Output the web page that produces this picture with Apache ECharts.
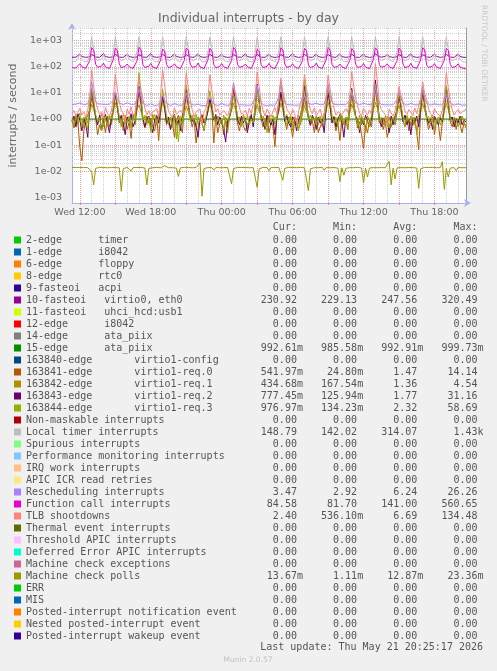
<!DOCTYPE html>
<html><head><meta charset="utf-8">
<script src="https://cdn.jsdelivr.net/npm/echarts@6/dist/echarts.min.js"></script>
<style>html,body{margin:0;padding:0;background:#f0f0f0}#c{width:497px;height:671px}</style>
</head><body><div id="c"></div>
<script>
// ---------- legend / series definitions ----------
const seriesNames = [
"2-edge      timer","1-edge      i8042","6-edge      floppy","8-edge      rtc0",
"9-fasteoi   acpi","10-fasteoi   virtio0, eth0","11-fasteoi   uhci_hcd:usb1",
"12-edge      i8042","14-edge      ata_piix","15-edge      ata_piix",
"163840-edge       virtio1-config","163841-edge       virtio1-req.0",
"163842-edge       virtio1-req.1","163843-edge       virtio1-req.2",
"163844-edge       virtio1-req.3","Non-maskable interrupts","Local timer interrupts",
"Spurious interrupts","Performance monitoring interrupts","IRQ work interrupts",
"APIC ICR read retries","Rescheduling interrupts","Function call interrupts",
"TLB shootdowns","Thermal event interrupts","Threshold APIC interrupts",
"Deferred Error APIC interrupts","Machine check exceptions","Machine check polls",
"ERR","MIS","Posted-interrupt notification event","Nested posted-interrupt event",
"Posted-interrupt wakeup event"];
const seriesColors = [
"#00CC00","#0066B3","#FF8000","#FFCC00","#330099","#990099","#CCFF00","#FF0000",
"#808080","#008F00","#00487D","#B35A00","#B38F00","#6B006B","#8FB300","#B30000",
"#BEBEBE","#80FF80","#80C9FF","#FFC080","#FFE680","#AA80FF","#EE00CC","#FF8080",
"#666600","#FFBFFF","#00FFCC","#CC6699","#999900","#00CC00","#0066B3","#FF8000",
"#FFCC00","#330099"];
const curValues = ["0.00","0.00","0.00","0.00","0.00","230.92","0.00","0.00","0.00","992.61m","0.00","541.97m","434.68m","777.45m","976.97m","0.00","148.79","0.00","0.00","0.00","0.00","3.47","84.58","2.40","0.00","0.00","0.00","0.00","13.67m","0.00","0.00","0.00","0.00","0.00"];
const minValues = ["0.00","0.00","0.00","0.00","0.00","229.13","0.00","0.00","0.00","985.58m","0.00","24.80m","167.54m","125.94m","134.23m","0.00","142.02","0.00","0.00","0.00","0.00","2.92","81.70","536.10m","0.00","0.00","0.00","0.00","1.11m","0.00","0.00","0.00","0.00","0.00"];
const avgValues = ["0.00","0.00","0.00","0.00","0.00","247.56","0.00","0.00","0.00","992.91m","0.00","1.47","1.36","1.77","2.32","0.00","314.07","0.00","0.00","0.00","0.00","6.24","141.00","6.69","0.00","0.00","0.00","0.00","12.87m","0.00","0.00","0.00","0.00","0.00"];
const maxValues = ["0.00","0.00","0.00","0.00","0.00","320.49","0.00","0.00","0.00","999.73m","0.00","14.14","4.54","31.16","58.69","0.00","1.43k","0.00","0.00","0.00","0.00","26.26","560.65","134.48","0.00","0.00","0.00","0.00","23.36m","0.00","0.00","0.00","0.00","0.00"];

// ---------- x categories: Wed 11:20 .. Thu 20:40, 10-minute steps ----------
const startMinute = 680, stepMinutes = 10, pointCount = 201;
const timeCategories = [];
for (let i = 0; i < pointCount; i++) {
  const m = startMinute + i * stepMinutes;
  const day = m >= 1440 ? "Thu" : "Wed";
  const mm = m % 1440;
  timeCategories.push(day + " " + String(Math.floor(mm / 60)).padStart(2, "0") + ":" + String(mm % 60).padStart(2, "0"));
}
const xLabelTimes = ["Wed 12:00","Wed 18:00","Thu 00:00","Thu 06:00","Thu 12:00","Thu 18:00"];

// ---------- y axis ----------
const yMin = 6.05e-4, yMax = 3070;
const yDecades = [1e-3, 1e-2, 1e-1, 1, 10, 100, 1000];

// ---------- series values ----------
const eth0 = [
232,231,233,252,312,246,233,231,232,241,296,262,
238,233,231,250,318,245,232,230,233,243,300,258,
236,232,230,249,305,247,231,230,232,238,290,261,
237,233,231,251,320,244,232,231,233,241,298,255,
235,232,230,253,309,248,231,229,232,240,293,259,
239,233,231,248,316,246,232,230,233,242,301,257,
236,231,230,250,307,245,231,230,232,239,292,263,
238,233,232,252,314,247,232,231,233,243,297,256,
235,232,230,249,310,244,231,229,232,240,295,260,
237,233,231,251,319,248,233,230,232,241,299,258,
236,232,230,250,306,246,231,230,233,239,294,262,
238,233,231,253,315,245,232,231,232,242,302,257,
235,231,230,249,311,247,231,229,232,240,320,265,
237,233,232,251,308,244,233,230,233,241,296,259,
236,232,230,250,317,246,231,230,232,239,291,261,
238,233,231,252,310,248,232,231,233,243,298,256,
236,232,230,251,313,245,232,231,230.9];
const ata15 = [
.993,.992,.994,.993,.991,.993,.995,.992,.993,.994,.997,.995,
.993,.992,.993,.994,.992,.993,.991,.993,.994,.992,.998,.995,
.993,.994,.992,.993,.991,.993,.994,.992,.993,.993,.999,.996,
.994,.992,.993,.991,.993,.994,.992,.993,.992,.994,.997,.995,
.993,.992,.994,.993,.992,.986,.993,.994,.992,.993,.998,.995,
.992,.993,.994,.992,.993,.991,.994,.993,.992,.993,.997,.994,
.993,.994,.992,.993,.992,.994,.993,.991,.993,.994,.998,.996,
.993,.992,.993,.994,.992,.993,.994,.992,.993,.992,.997,.995,
.994,.993,.992,.993,.991,.994,.993,.992,.994,.993,.999,.996,
.993,.992,.994,.993,.992,.993,.991,.994,.993,.992,.997,.994,
.993,.994,.992,.993,.994,.992,.993,.994,.992,.993,.998,.995,
.992,.993,.994,.992,.993,.991,.994,.993,.992,.994,.997,.995,
.993,.992,.994,.993,.992,.994,.993,.992,.993,.994,.9997,.996,
.993,.994,.992,.993,.991,.993,.994,.992,.993,.992,.997,.994,
.994,.993,.992,.994,.993,.992,.993,.991,.994,.993,.998,.995,
.993,.992,.994,.993,.992,.993,.994,.992,.993,.994,.997,.995,
.993,.992,.993,.994,.992,.993,.991,.993,.9926];
const req0 = [
0.9,0.45,1.2,0.7,0.08,0.025,0.35,0.9,1.4,2.2,6.5,3.1,
1.1,0.25,0.6,0.35,0.9,0.3,1.3,0.5,0.8,1.9,9.5,2.8,
0.7,1.2,0.5,1.0,0.4,0.75,0.18,1.5,0.6,2.4,12,3.5,
0.9,0.45,1.3,0.7,1.1,0.5,0.35,1.2,0.15,1.8,7.2,2.6,
0.6,1.0,0.4,0.8,0.2,0.9,1.4,0.55,0.3,2.1,8.8,3.0,
1.3,0.5,0.9,0.12,0.45,1.1,0.7,0.35,1.0,2.0,5.5,2.4,
0.12,1.2,0.3,0.65,1.0,0.25,0.9,0.5,1.3,2.3,10,3.2,
0.7,0.35,1.1,0.55,0.35,0.4,0.95,1.2,0.6,1.7,14,3.8,
1.0,0.5,0.8,1.3,0.3,0.7,0.5,0.087,1.1,2.2,9.0,2.9,
0.9,0.4,1.2,0.6,0.2,0.85,1.0,0.45,0.7,1.9,6.8,2.5,
1.1,0.55,0.9,0.3,1.2,0.3,0.5,0.8,1.3,2.4,11,3.3,
0.8,1.0,0.35,0.7,0.15,0.9,0.6,1.2,0.4,2.0,8.2,2.7,
1.2,0.45,0.8,0.25,0.075,0.6,0.3,0.9,0.5,2.6,13,3.6,
0.7,1.1,0.4,0.85,0.2,0.4,0.5,1.0,0.6,1.8,7.5,2.6,
0.9,0.5,1.2,0.35,0.8,0.55,1.1,0.3,0.067,2.1,9.2,3.0,
1.0,0.4,0.7,1.2,0.25,0.9,0.6,0.15,0.8,2.3,10,3.1,
0.8,0.5,1.1,0.4,0.9,0.6,0.3,0.7,0.54];
const req1 = [
1.1,0.8,1.5,0.6,1.2,0.9,0.45,1.3,0.7,1.8,3.8,2.2,
1.4,0.7,1.0,1.6,0.5,1.1,0.8,1.3,0.6,2.0,4.2,2.5,
1.2,0.9,0.35,1.4,0.8,1.2,0.6,1.0,1.5,1.7,3.5,2.0,
0.9,1.3,0.7,1.1,0.4,1.5,0.9,0.6,1.2,1.9,4.5,2.4,
1.3,0.6,1.2,0.8,1.4,0.17,1.0,1.3,0.7,1.6,3.2,1.9,
1.0,1.4,0.8,0.5,1.2,0.9,1.5,0.7,1.1,1.8,3.9,2.1,
1.2,0.7,1.3,1.0,0.6,1.4,0.8,0.3,1.2,2.1,4.0,2.3,
0.8,1.2,0.6,1.5,0.9,0.4,1.3,1.0,0.7,1.7,3.6,2.0,
1.3,0.9,1.1,0.5,1.4,0.8,0.6,1.2,1.0,1.9,4.1,2.4,
1.0,1.5,0.7,1.2,0.35,1.1,0.9,1.4,0.6,1.6,3.3,1.8,
1.4,0.8,1.2,0.9,1.3,0.6,1.1,0.5,1.2,2.0,4.3,2.5,
0.9,1.3,0.5,1.1,0.8,1.4,0.7,1.2,0.4,1.8,3.7,2.1,
1.2,0.7,1.4,0.6,1.0,0.3,1.3,0.9,1.1,2.2,4.4,2.6,
1.1,0.9,0.6,1.3,0.8,1.2,0.5,1.0,1.4,1.7,3.4,1.9,
0.8,1.4,1.0,0.7,1.3,0.9,1.2,0.25,1.0,1.9,3.9,2.2,
1.3,0.6,1.1,1.4,0.7,1.0,0.8,1.3,0.6,2.0,4.0,2.3,
1.0,1.2,0.7,1.1,0.9,0.6,1.3,0.8,0.43];
const req2 = [
0.8,1.3,0.5,1.6,0.9,0.35,1.1,0.6,0.2,2.8,12,4.0,
1.2,0.6,1.4,0.4,1.0,1.5,0.7,0.3,1.1,2.5,9.0,3.2,
0.9,1.4,0.7,0.25,1.2,0.8,1.6,0.5,0.9,3.2,18,5.1,
1.1,0.5,0.9,1.3,0.6,0.3,1.0,1.4,0.7,2.4,7.5,2.9,
0.7,1.2,0.4,1.0,1.5,0.6,0.9,0.35,1.3,2.9,14,4.2,
1.3,0.8,1.1,0.5,0.2,1.0,1.4,0.7,0.9,2.2,6.0,2.7,
0.9,1.5,0.6,1.2,0.8,0.4,0.13,0.9,1.2,3.0,16,4.6,
1.0,0.6,1.3,0.7,1.1,0.3,0.8,1.5,0.5,3.5,22,5.5,
1.2,0.8,0.4,1.4,0.9,0.6,1.0,0.25,1.1,2.7,11,3.8,
0.8,1.3,0.7,0.5,1.2,1.0,0.35,0.9,1.4,3.3,19,5.0,
1.1,0.6,1.4,0.9,0.4,1.2,0.7,1.0,0.3,2.6,10,3.5,
0.7,1.2,0.5,1.0,1.5,0.8,0.2,1.1,0.9,3.1,15,4.4,
1.3,0.9,0.3,1.2,0.6,1.4,0.8,0.5,1.0,4.2,31,7.0,
1.0,0.5,1.1,0.7,0.9,0.3,1.3,0.6,1.2,2.5,8.5,3.1,
0.8,1.4,0.6,1.0,0.25,1.1,0.7,1.3,0.5,2.9,13,4.0,
1.2,0.7,1.0,0.4,1.3,0.9,0.6,1.1,0.8,3.0,17,4.8,
0.9,1.2,0.5,1.0,0.7,1.3,0.6,0.9,0.78];
const req3 = [
1.0,0.6,1.4,0.8,1.7,0.5,1.2,0.9,0.4,3.5,15,5.2,
1.5,0.8,1.1,0.35,1.3,0.9,0.6,1.4,1.0,3.0,11,4.0,
1.2,0.5,1.6,1.0,0.7,1.3,0.45,1.1,0.8,6.5,58.7,12,
0.9,1.4,0.6,1.2,0.3,1.0,1.5,0.7,1.2,3.2,14,4.6,
1.3,0.7,1.1,0.5,1.4,0.9,0.134,1.0,0.6,4.0,20,6.0,
0.8,1.2,0.9,1.5,0.6,1.1,0.7,0.4,1.3,3.1,12,4.3,
1.1,0.6,1.3,0.8,1.0,0.4,1.2,0.9,1.4,2.8,9.0,3.8,
1.4,0.9,0.5,1.2,0.8,1.3,0.6,1.0,0.7,3.4,16,5.0,
1.0,1.3,0.7,0.3,1.1,0.8,1.4,0.6,1.2,4.5,28,7.5,
1.2,0.6,1.0,1.4,0.5,1.2,0.9,0.35,1.1,5.0,32,8.0,
0.9,1.4,0.8,1.1,0.6,1.0,1.3,0.7,1.0,3.6,18,5.5,
1.3,0.7,1.2,0.5,1.4,0.9,0.6,1.2,0.8,3.3,13,4.5,
1.1,0.9,0.4,1.3,0.7,1.1,1.0,0.5,1.4,3.8,21,6.2,
0.8,1.2,1.0,0.6,1.3,0.45,0.9,1.2,0.7,2.9,10,3.9,
1.2,0.5,1.4,0.9,0.7,1.2,0.6,1.0,1.3,3.5,17,5.1,
1.0,1.3,0.7,1.1,0.4,0.9,1.2,0.6,1.0,3.7,19,5.6,
1.1,0.7,1.2,0.9,0.5,1.0,1.3,0.8,0.98];
const localTimer = [
160,157,163,205,310,196,161,156,159,365,1410,490,
215,172,160,198,305,190,158,155,161,390,1380,470,
220,168,157,201,322,188,160,154,158,372,1420,505,
208,170,159,195,298,192,157,153,160,355,1360,460,
212,166,156,203,315,187,159,155,157,380,1400,520,
218,171,158,196,309,194,156,152,159,368,1390,480,
206,165,157,199,320,189,158,154,160,392,1430,510,
214,169,155,202,302,191,157,153,158,360,1350,470,
210,167,158,197,312,186,159,155,161,378,1410,495,
219,172,156,204,318,193,157,154,159,370,1385,485,
207,166,159,198,300,190,158,152,157,385,1420,500,
213,170,157,201,325,188,156,153,160,362,1370,475,
216,168,158,196,306,192,159,155,158,388,1400,515,
209,171,156,203,314,187,157,154,161,374,1395,490,
217,167,157,199,299,193,158,153,159,366,1415,505,
211,169,158,202,321,189,156,152,158,381,1380,480,
214,166,157,200,308,190,158,151,148.8];
const rescheduling = [
3.6,3.5,3.7,3.6,4.1,3.7,3.5,3.6,3.8,6.5,27,8.2,
4.6,3.8,3.6,3.7,4.0,3.6,3.5,3.7,3.6,5.2,11,6.0,
4.2,3.7,3.5,3.6,4.2,3.7,3.6,3.5,3.7,5.8,15,6.8,
4.0,3.4,3.3,3.4,3.8,3.4,3.3,3.4,3.5,4.8,8.0,5.1,
3.9,3.4,3.3,3.5,3.9,3.3,3.4,3.3,3.4,5.0,10,5.5,
3.8,3.3,3.4,3.3,3.7,3.4,3.3,3.4,3.3,4.6,6.5,4.8,
3.7,3.4,3.3,3.4,3.9,3.3,3.4,3.5,3.4,6.8,25,8.5,
4.5,3.5,3.4,3.5,3.8,3.4,3.3,3.4,3.5,6.2,20,7.6,
4.3,3.5,3.4,3.3,3.9,3.5,3.4,3.3,3.4,7.0,26,8.8,
4.4,3.6,3.4,3.5,3.8,3.4,3.5,3.4,3.3,4.9,8.5,5.3,
3.9,3.5,3.6,3.7,4.0,3.6,3.5,3.6,3.7,6.6,22,8.0,
4.5,3.7,3.6,3.5,3.9,3.6,3.7,3.5,3.6,5.3,10,6.0,
4.1,3.6,3.5,3.6,4.0,3.5,3.6,3.7,3.5,6.1,18,7.2,
4.3,3.6,3.4,3.5,3.8,3.5,3.4,3.5,3.6,5.4,12,6.2,
4.0,3.5,3.4,3.5,3.9,3.4,3.5,3.4,3.5,5.6,14,6.5,
4.1,3.5,3.4,3.5,3.8,3.4,3.5,3.4,3.5,5.0,9.0,5.4,
3.9,3.5,3.4,3.6,3.8,3.5,3.4,3.5,3.47];
const functionCall = [
92,89,91,104,132,101,90,87,88,175,545,430,
125,96,90,106,138,99,89,86,90,190,520,410,
130,94,88,103,128,100,91,87,89,168,560,445,
118,95,90,105,135,98,88,86,88,182,480,390,
122,93,89,107,130,102,90,85,89,176,530,425,
127,96,88,102,140,99,89,86,90,186,505,400,
119,92,90,104,133,101,88,87,88,172,550,440,
124,95,89,106,129,100,90,86,89,188,470,380,
121,94,88,103,136,98,89,85,90,179,540,435,
128,96,90,105,131,101,88,86,88,170,515,415,
117,93,89,107,139,99,90,87,89,184,555,430,
123,95,88,102,127,100,89,86,90,174,495,400,
126,94,90,104,134,98,88,85,88,189,535,425,
120,96,89,106,130,101,90,86,89,171,525,410,
129,93,88,103,137,99,89,87,90,183,545,440,
118,95,90,105,132,100,88,86,88,178,510,420,
124,94,89,104,131,98,88,86,84.6];
const tlbShootdowns = [
1.6,2.1,1.3,1.8,2.6,1.4,1.9,1.2,2.2,7.5,75,18,
5.2,2.4,1.5,1.9,1.1,2.8,1.6,1.3,2.0,6.8,52,14,
4.6,2.2,1.7,0.8,2.4,1.5,2.9,1.4,1.8,8.2,38,12,
5.8,2.6,1.4,2.1,1.3,1.9,1.6,2.5,1.2,9.1,78,20,
4.9,2.0,1.8,1.1,2.7,1.5,1.3,2.2,1.7,7.2,60,16,
5.5,2.3,1.2,1.9,1.6,2.4,0.6,1.8,2.6,6.5,50,13,
4.2,1.9,2.5,1.4,1.2,2.1,1.7,1.3,2.3,5.8,19,8.5,
5.1,2.7,1.5,1.8,2.2,1.3,2.6,1.6,1.4,8.8,63,17,
4.4,2.1,1.3,2.4,1.7,1.2,1.9,2.8,1.5,6.9,36,11,
5.6,2.5,1.8,1.4,2.3,1.6,0.7,2.0,1.9,7.7,52,15,
4.8,2.2,1.6,2.7,1.3,1.8,2.4,1.1,1.7,7.4,48,14,
5.3,2.6,1.4,1.9,2.1,1.5,1.3,2.5,1.8,8.5,65,18,
6.2,3.1,1.7,1.3,2.6,1.9,1.4,2.2,1.6,12,134,28,
4.1,2.3,1.9,1.5,0.55,2.4,1.7,1.3,2.1,5.5,18,7.8,
4.5,2.0,1.5,2.3,1.8,1.3,2.6,1.6,1.4,6.1,27,9.5,
5.7,2.4,1.6,1.2,2.5,1.7,1.9,1.3,2.2,8.0,60,16,
5.0,2.2,1.4,1.9,2.3,1.6,1.8,2.1,2.4];
const machineCheckPolls = [
.0138,.0136,.0140,.0137,.0139,.0135,.0138,.0141,.0137,.0136,.0092,.0030,
.0129,.0138,.0140,.0136,.0139,.0137,.0135,.0140,.0138,.0136,.0139,.0137,
.0134,.0017,.0125,.0138,.0140,.0136,.0102,.0137,.0139,.0138,.0135,.0140,
.0137,.0133,.0030,.0128,.0139,.0136,.0138,.0140,.0137,.0135,.0139,.0162,
.0138,.0136,.0140,.0137,.0139,.0131,.0063,.0134,.0138,.0141,.0136,.0139,
.0137,.0135,.0140,.0138,.0136,.0210,.0011,.0127,.0139,.0137,.0140,.0136,
.0110,.0138,.0139,.0136,.0140,.0137,.0135,.0139,.0132,.0033,.0126,.0138,
.0140,.0136,.0139,.0137,.0138,.0141,.0136,.0139,.0137,.0130,.0024,.0124,
.0138,.0140,.0136,.0139,.0105,.0137,.0140,.0138,.0136,.0139,.0133,.0045,
.0129,.0138,.0140,.0137,.0139,.0160,.0136,.0138,.0140,.0137,.0135,.0132,
.0018,.0123,.0139,.0137,.0140,.0136,.0138,.0141,.0110,.0137,.0139,.0136,
.0140,.0138,.0136,.0131,.0040,.0135,.0070,.0128,.0139,.0137,.0140,.0136,
.0138,.0141,.0137,.0132,.0035,.0130,.0060,.0133,.0139,.0137,.0140,.0136,
.0158,.0138,.0140,.0136,.0139,.0240,.0030,.0131,.0050,.0134,.0139,.0137,
.0140,.0136,.0115,.0138,.0140,.0137,.0139,.0133,.0022,.0125,.0138,.0140,
.0136,.0139,.0137,.0140,.0138,.0136,.0139,.0137,.0234,.0020,.0128,.0060,
.0132,.0139,.0137,.0105,.0138,.0140,.0136,.0139,.01367];

const seriesData = {
  "10-fasteoi   virtio0, eth0": eth0,
  "15-edge      ata_piix": ata15,
  "163841-edge       virtio1-req.0": req0,
  "163842-edge       virtio1-req.1": req1,
  "163843-edge       virtio1-req.2": req2,
  "163844-edge       virtio1-req.3": req3,
  "Local timer interrupts": localTimer,
  "Rescheduling interrupts": rescheduling,
  "Function call interrupts": functionCall,
  "TLB shootdowns": tlbShootdowns,
  "Machine check polls": machineCheckPolls
};

// ---------- helpers ----------
const minorGridValues = [];
for (let e = -4; e <= 3; e++) {
  for (let k = 2; k <= 9; k++) {
    const v = k * Math.pow(10, e);
    if (v > yMin && v < yMax) minorGridValues.push(v);
  }
}
function placeField(row, value, suffixIndex) {
  const f = /[a-z]$/i.test(value) ? value : value + " ";
  return row.padEnd(suffixIndex + 1 - f.length, " ") + f;
}
function legendRow(name) {
  const i = seriesNames.indexOf(name);
  let r = name;
  r = placeField(r, curValues[i], 45);
  r = placeField(r, minValues[i], 55);
  r = placeField(r, avgValues[i], 65);
  r = placeField(r, maxValues[i], 75);
  return r;
}
const headerRow = " ".repeat(41) + "Cur:" + " ".repeat(6) + "Min:" + " ".repeat(6) + "Avg:" + " ".repeat(6) + "Max:";

const MONO = "DejaVu Sans Mono";
const SANS = "DejaVu Sans";
const gridRed = "#f0a0a0";
const gridGrey = "#cfcfcf";
const axisBlue = "#aab2ee";

const series = seriesNames.map((name, i) => ({
  name: name,
  type: "line",
  data: seriesData[name] || [],
  showSymbol: false,
  symbol: "none",
  silent: true,
  z: 3,
  lineStyle: { width: 1, color: seriesColors[i] },
  itemStyle: { color: seriesColors[i] }
}));
series.unshift({
  type: "line", data: [], silent: true, z: 1,
  markLine: {
    silent: true, symbol: ["none", "none"], label: { show: false }, z: 1, animation: false,
    lineStyle: { color: gridGrey, type: "dotted", width: 1 },
    emphasis: { disabled: true },
    data: minorGridValues.map(v => ({ yAxis: v }))
  }
}, {
  type: "line", data: [], silent: true, z: 1,
  markLine: {
    silent: true, symbol: ["none", "none"], label: { show: false }, z: 1, animation: false,
    lineStyle: { color: gridRed, type: "dotted", width: 1 },
    emphasis: { disabled: true },
    data: yDecades.map(v => ({ yAxis: v }))
  }
});

const chart = echarts.init(document.getElementById("c"), null, { renderer: "canvas" });
chart.setOption({
  animation: false,
  backgroundColor: "#f0f0f0",
  title: {
    text: "Individual interrupts - by day", left: "center", top: 12, padding: 0,
    textStyle: { fontFamily: SANS, fontSize: 12.5, fontWeight: "normal", color: "#666" }
  },
  grid: { left: 67, right: 31, top: 28, bottom: 468, show: true, backgroundColor: "#ffffff", borderWidth: 0 },
  xAxis: [{
    type: "category", data: timeCategories, boundaryGap: false, position: "bottom",
    axisLine: { onZero: false, lineStyle: { color: axisBlue, width: 1 }, symbol: ["none", "arrow"], symbolSize: [6, 7], symbolOffset: [0, 5] },
    axisTick: { show: true, length: 2, inside: false, interval: (i) => i % 18 === 4, lineStyle: { color: "#f08080" } },
    axisLabel: { interval: (i, v) => xLabelTimes.indexOf(v) >= 0, fontFamily: SANS, fontSize: 9.5, color: "#666", margin: 5 },
    splitLine: { show: true, interval: (i) => i % 6 === 4, lineStyle: { color: gridGrey, type: "dotted", width: 1 } }
  }, {
    type: "category", data: timeCategories, boundaryGap: false, position: "top",
    axisLine: { show: false }, axisTick: { show: false }, axisLabel: { show: false },
    splitLine: { show: true, interval: (i) => i % 18 === 4, lineStyle: { color: gridRed, type: "dotted", width: 1 } }
  }],
  yAxis: [{
    type: "log", logBase: 10, min: yMin, max: yMax, position: "left",
    name: "interrupts / second", nameLocation: "middle", nameGap: 53,
    nameTextStyle: { fontFamily: SANS, fontSize: 11, color: "#666" },
    axisLine: { show: true, onZero: false, lineStyle: { color: axisBlue, width: 1 }, symbol: ["none", "arrow"], symbolSize: [6, 7], symbolOffset: [0, 5] },
    axisTick: { show: false },
    axisLabel: { showMinLabel: false, showMaxLabel: false, fontFamily: SANS, fontSize: 9.5, color: "#666", margin: 10,
      formatter: (v) => { const e = Math.round(Math.log10(v)); return "1e" + (e < 0 ? "-" : "+") + String(Math.abs(e)).padStart(2, "0"); } },
    splitLine: { show: false }
  }, {
    type: "log", logBase: 10, min: yMin, max: yMax, position: "right",
    axisLine: { show: true, onZero: false, lineStyle: { color: "#999", width: 1 } },
    axisTick: { show: false }, axisLabel: { show: false }, splitLine: { show: false }
  }],
  legend: {
    data: seriesNames, orient: "vertical", left: 14, top: 234, padding: 0,
    itemWidth: 7, itemHeight: 7, itemGap: 0, icon: "rect",
    formatter: legendRow,
    textStyle: { fontFamily: MONO, fontSize: 10, color: "#555", lineHeight: 12 }
  },
  graphic: [
    { type: "text", left: 26, top: 222, style: { text: headerRow, font: "10px '" + MONO + "'", fill: "#555" } },
    { type: "text", right: 14, top: 642, style: { text: "Last update: Thu May 21 20:25:17 2026", font: "10px '" + MONO + "'", fill: "#555" } },
    { type: "text", x: 248, y: 660, style: { text: "Munin 2.0.57", font: "7.5px '" + SANS + "'", fill: "#c0c0c0", align: "center", verticalAlign: "middle" } },
    { type: "text", x: 484, y: 5, rotation: -Math.PI / 2, style: { text: "RRDTOOL / TOBI OETIKER", font: "7.5px '" + SANS + "'", fill: "#c8c8c8", align: "left", verticalAlign: "middle" } }
  ],
  series: series
});
</script></body></html>
